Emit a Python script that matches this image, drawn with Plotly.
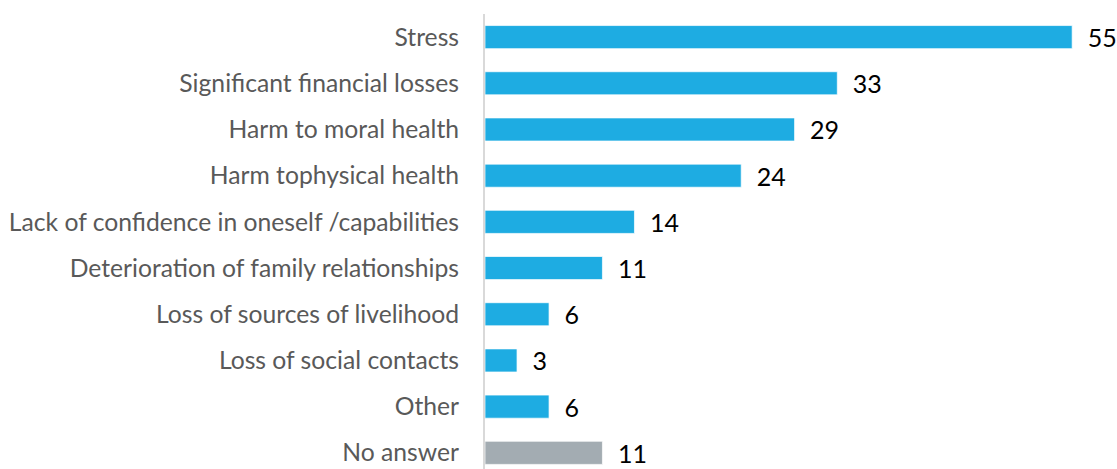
import plotly.graph_objects as go

categories = ["Stress", "Significant financial losses", "Harm to moral health",
              "Harm tophysical health", "Lack of confidence in oneself /capabilities",
              "Deterioration of family relationships", "Loss of sources of livelihood",
              "Loss of social contacts", "Other", "No answer"]
values = [55, 33, 29, 24, 14, 11, 6, 3, 6, 11]
blue = "#1EACE2"
gray = "#A3ACB2"
colors = [blue] * 9 + [gray]

fig = go.Figure(go.Bar(
    y=categories, x=values, orientation="h",
    marker=dict(color=colors, line=dict(color="rgba(255,255,255,0.7)", width=1)),
    text=["\u2002" + str(v) for v in values], textposition="outside",
    constraintext="none",
    textfont=dict(family="Lato, sans-serif", size=25, color="#000000"),
    cliponaxis=False, width=0.5,
))
fig.update_layout(
    width=1117, height=469, plot_bgcolor="white", paper_bgcolor="white",
    margin=dict(l=485, r=0, t=14, b=0),
    showlegend=False,
    xaxis=dict(range=[0, 59.2], visible=False),
    yaxis=dict(categoryorder="array", categoryarray=categories, range=[9.35, -0.5],
               showline=True, linecolor="#D9D9D9", linewidth=2, ticks="",
               ticklabelstandoff=19,
               tickfont=dict(family="Lato, sans-serif", size=24.7, color="#595959"),
               showgrid=False, zeroline=False),
)
fig.write_html("out.html", config={"displayModeBar": False},
               post_script="document.body.style.margin='0';document.body.style.overflow='hidden';")
